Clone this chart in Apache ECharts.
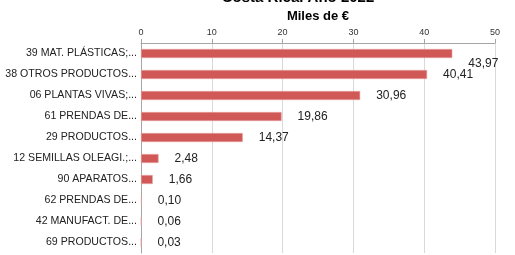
<!DOCTYPE html>
<html>
<head>
<meta charset="utf-8">
<script src="https://cdn.jsdelivr.net/npm/echarts@6/dist/echarts.min.js"></script>
<style>html,body{margin:0;padding:0;background:#fff}#c{width:515px;height:255px}</style>
</head>
<body>
<div id="c"></div>
<script>
// categorías de arriba abajo y valores en miles de €
const cats = [
  '39 MAT. PLÁSTICAS;...', '38 OTROS PRODUCTOS...', '06 PLANTAS VIVAS;...', '61 PRENDAS DE...',
  '29 PRODUCTOS...', '12 SEMILLAS OLEAGI.;...', '90 APARATOS...', '62 PRENDAS DE...',
  '42 MANUFACT. DE...', '69 PRODUCTOS...',
]
const vals = [43.97, 40.41, 30.96, 19.86, 14.37, 2.48, 1.66, 0.10, 0.06, 0.03]
const xTicks = [0, 10, 20, 30, 40, 50]

const FONT = 'Liberation Sans'
const BAR = '#D05856'
const GRID = '#D9D9D9'
const AXIS = '#A6A6A6'
const fmt = v => v.toFixed(2).replace('.', ',')

const chart = echarts.init(document.getElementById('c'))
chart.setOption({
  animation: false,
  title: {
    text: 'Costa Rica. Año 2022', left: 293, textAlign: 'center', top: -15,
    textStyle: { fontFamily: FONT, fontSize: 15, fontWeight: 'bold', color: '#000' },
  },
  grid: { left: 141, right: 20, top: 43, bottom: 2, containLabel: false, outerBoundsMode: 'none' },
  xAxis: {
    type: 'value', position: 'top', min: xTicks[0], max: xTicks[xTicks.length - 1], interval: 10,
    name: 'Miles de €', nameLocation: 'middle', nameGap: 17,
    nameTextStyle: { fontFamily: FONT, fontSize: 13, fontWeight: 'bold', color: '#000' },
    axisLine: { show: true, lineStyle: { color: AXIS } },
    axisTick: { show: true, length: 4, lineStyle: { color: AXIS } },
    axisLabel: { fontFamily: FONT, fontSize: 9, color: '#333', margin: 6 },
    splitLine: { show: true, lineStyle: { color: GRID } },
  },
  yAxis: {
    type: 'category', inverse: true, data: cats,
    axisLine: { lineStyle: { color: AXIS } },
    axisTick: { length: 4, lineStyle: { color: AXIS } },
    axisLabel: { fontFamily: FONT, fontSize: 10.6, color: '#222', margin: 4 },
  },
  series: [{
    type: 'bar', barWidth: 9,
    data: vals.map((v, i) => i === 0
      ? { value: v, label: { offset: [0, 10] } }
      : v),
    itemStyle: { color: BAR, borderColor: '#E8A3A1', borderWidth: 0.6 },
    label: {
      show: true, position: 'right', distance: 16, formatter: p => fmt(p.value),
      fontFamily: FONT, fontSize: 12, color: '#222',
    },
  }],
})
</script>
</body>
</html>
